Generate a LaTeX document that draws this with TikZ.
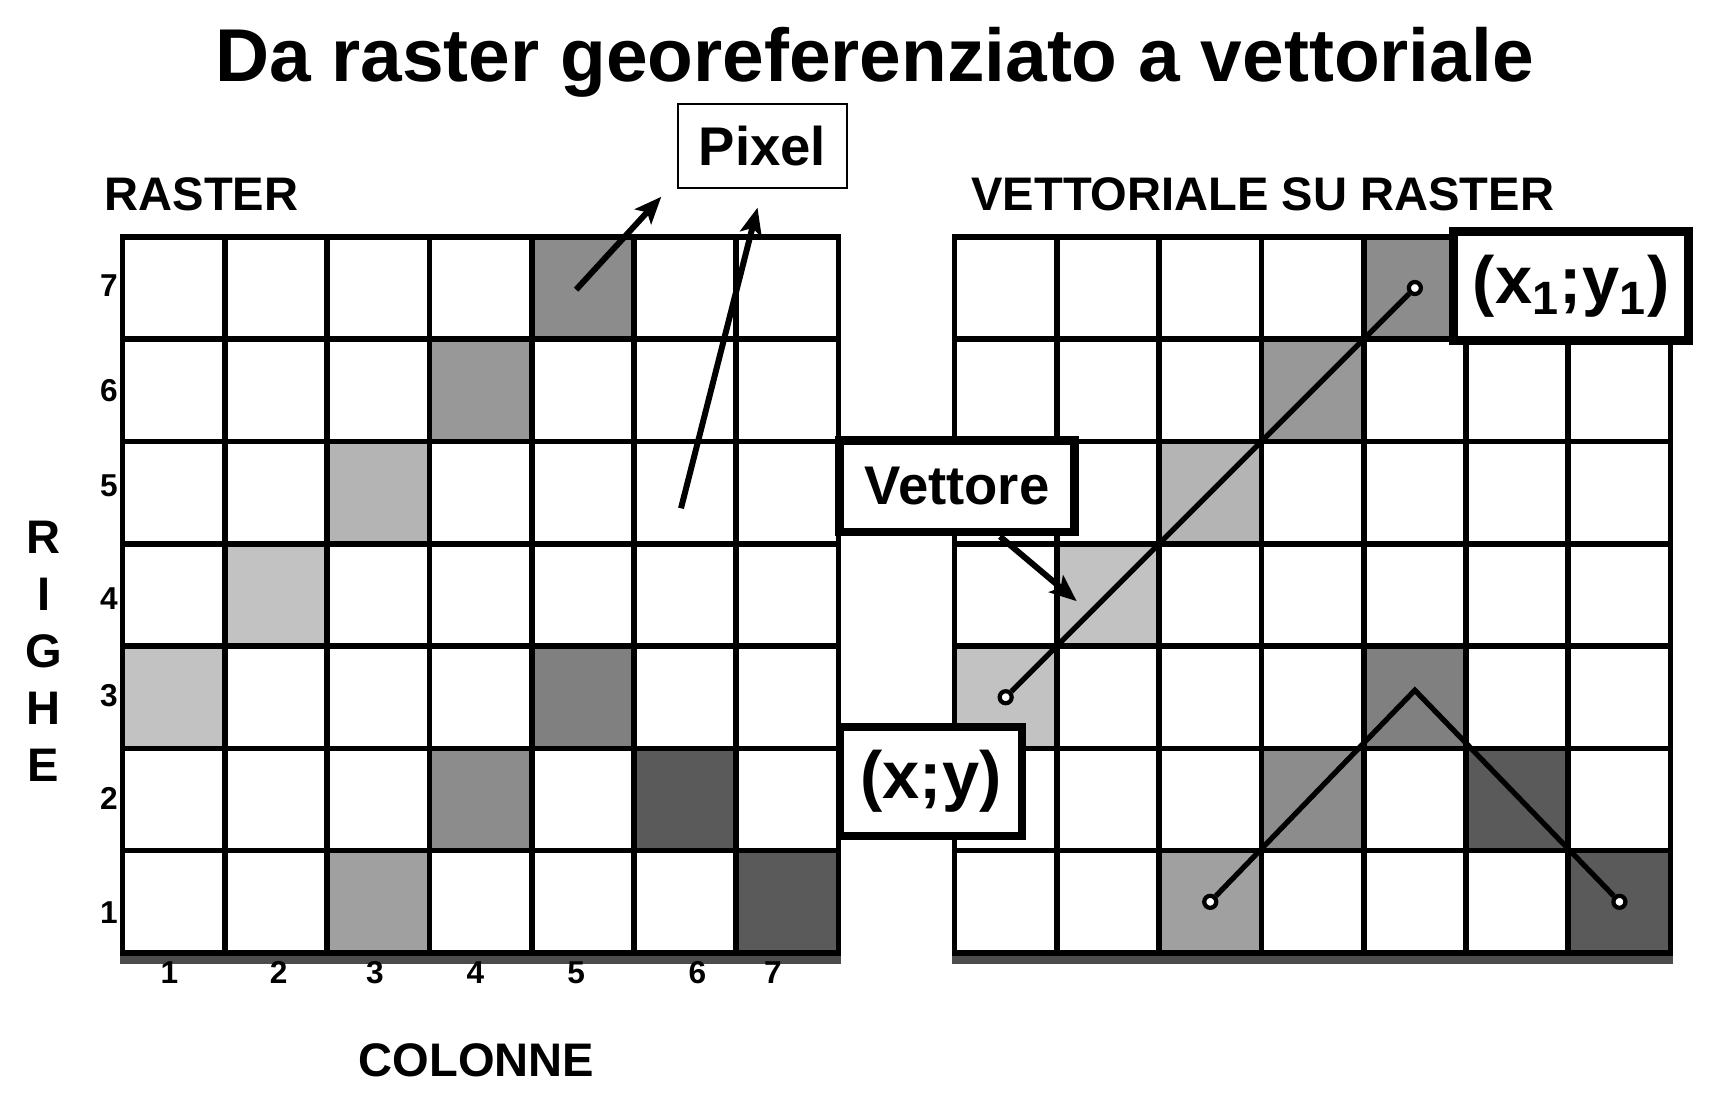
\documentclass[tikz,border=0pt]{standalone}
\usepackage{fontspec}
\setmainfont{Liberation Sans}
\usetikzlibrary{arrows.meta,positioning}
\definecolor{pixlight}{RGB}{194,194,194}
\definecolor{pixsoft}{RGB}{180,180,180}
\definecolor{pixmid}{RGB}{160,160,160}
\definecolor{pixgray}{RGB}{152,152,152}
\definecolor{pixdeep}{RGB}{140,140,140}
\definecolor{pixdark}{RGB}{128,128,128}
\definecolor{pixblack}{RGB}{90,90,90}
\tikzset{
    cell/.style={
        rectangle,
        draw=black,
        line width=1.6pt,
        minimum size=1.023cm,
        inner sep=0pt
    },
    pixbox/.style={
        rectangle,
        draw=black,
        fill=white,
        line width=0.5pt,
        inner sep=0pt,
        font=\bfseries\fontsize{15.5}{18}\selectfont
    },
    tagbox/.style={
        rectangle,
        draw=black,
        fill=white,
        line width=2.4pt,
        inner sep=0pt,
        font=\bfseries\fontsize{19}{22}\selectfont
    },
    heading/.style={
        anchor=base west,
        inner sep=0pt,
        font=\bfseries\fontsize{13.4}{16}\selectfont
    },
    tick/.style={
        inner sep=0pt,
        font=\bfseries\fontsize{9}{10}\selectfont
    },
    arrow/.style={
        -{Stealth[length=0.27cm,width=0.22cm,inset=0.06cm]},
        line width=1.7pt
    },
    vecline/.style={
        line width=1.5pt
    },
    endpt/.style={
        circle,
        draw=black,
        fill=white,
        line width=1.2pt,
        minimum size=0.12cm,
        inner sep=0pt
    }
}
\begin{document}
\begin{tikzpicture}
    \useasboundingbox (0,0) rectangle (17.14,11.04);

    % Title
    \node[anchor=base, inner sep=0pt, font=\bfseries\fontsize{21.3}{25}\selectfont] (title) at (8.745,10.22)
        {Da raster georeferenziato a vettoriale};

    % Left grid (raster)
    \begin{scope}[shift={(1.225cm,1.51cm)}, x=1.023cm, y=1.023cm]
        \foreach \c/\r/\tone in {5/7/pixdeep, 4/6/pixgray, 3/5/pixsoft, 2/4/pixlight, 1/3/pixlight,
                                 5/3/pixdark, 4/2/pixdeep, 6/2/pixblack, 3/1/pixmid, 7/1/pixblack}
            \fill[\tone] (\c-1,\r-1) rectangle (\c,\r);
        \foreach \c in {1,...,7}
            \foreach \r in {1,...,7}
                \node[cell] (L\c\r) at (\c-0.5,\r-0.5) {};
    \end{scope}
    \fill[black!70] (L11.south west) rectangle ([yshift=-0.08cm]L71.south east);

    % Right grid (vettoriale su raster)
    \begin{scope}[shift={(9.545cm,1.51cm)}, x=1.023cm, y=1.023cm]
        \foreach \c/\r/\tone in {5/7/pixdeep, 4/6/pixgray, 3/5/pixsoft, 2/4/pixlight, 1/3/pixlight,
                                 5/3/pixdark, 4/2/pixdeep, 6/2/pixblack, 3/1/pixmid, 7/1/pixblack}
            \fill[\tone] (\c-1,\r-1) rectangle (\c,\r);
        \foreach \c in {1,...,7}
            \foreach \r in {1,...,7}
                \node[cell] (R\c\r) at (\c-0.5,\r-0.5) {};
    \end{scope}
    \fill[black!70] (R11.south west) rectangle ([yshift=-0.08cm]R71.south east);

    % Headings and axes
    \node[heading] (rasterhd) at (1.04,8.93) {RASTER};
    \node[heading] (vettorhd) at (9.707,8.93) {VETTORIALE SU RASTER};
    \node[heading, anchor=base] (colonne) at (4.766,0.273) {COLONNE};
    \node[inner sep=0pt, align=center, font=\bfseries\fontsize{13.4}{16.2}\selectfont] (righe) at (0.437,4.525)
        {R\\I\\G\\H\\E};
    \foreach \r/\yy in {7/8.18, 6/7.13, 5/6.18, 4/5.05, 3/4.08, 2/3.06, 1/1.91}
        \node[tick] (row\r) at (1.09,\yy) {\r};
    \foreach \c/\xx in {1/1.694, 2/2.787, 3/3.749, 4/4.755, 5/5.761, 6/6.974, 7/7.728}
        \node[tick, anchor=base] (col\c) at (\xx,1.20) {\c};

    % Vectors
    \node[endpt] (p0) at (R13) {};
    \node[endpt] (p1) at (R57) {};
    \node[endpt] (q0) at (R31) {};
    \node[endpt] (q1) at (R71) {};
    \coordinate (peak) at ([yshift=0.07cm]R53);
    \draw[vecline] (p0) -- (p1);
    \draw[vecline] (q0) -- (peak) -- (q1);

    % Labels
    \node[pixbox, minimum width=1.695cm, minimum height=0.84cm] (pixel) at (7.625,9.58) {Pixel};
    \node[tagbox, font=\bfseries\fontsize{15.5}{18}\selectfont, minimum width=2.35cm, minimum height=0.918cm] (vett) at (9.57,6.176) {Vettore};
    \node[tagbox, minimum width=1.825cm, minimum height=1.09cm] (xy) at (9.31,3.224) {(x;y)};
    \node[tagbox, minimum width=2.35cm, minimum height=1.09cm] (xy1) at (15.71,8.18) {(x\textsubscript{1};y\textsubscript{1})};

    % Arrows
    \coordinate (a1s) at (5.761,8.143);
    \coordinate (a1e) at (6.613,9.072);
    \coordinate (a2s) at (6.81,5.957);
    \coordinate (a2e) at (7.575,8.963);
    \coordinate (a3s) at ([xshift=0.43cm]vett.south);
    \coordinate (a3e) at (10.767,5.028);
    \draw[arrow] (a1s) -- (a1e);
    \draw[arrow] (a2s) -- (a2e);
    \draw[arrow] (a3s) -- (a3e);
\end{tikzpicture}
\end{document}
